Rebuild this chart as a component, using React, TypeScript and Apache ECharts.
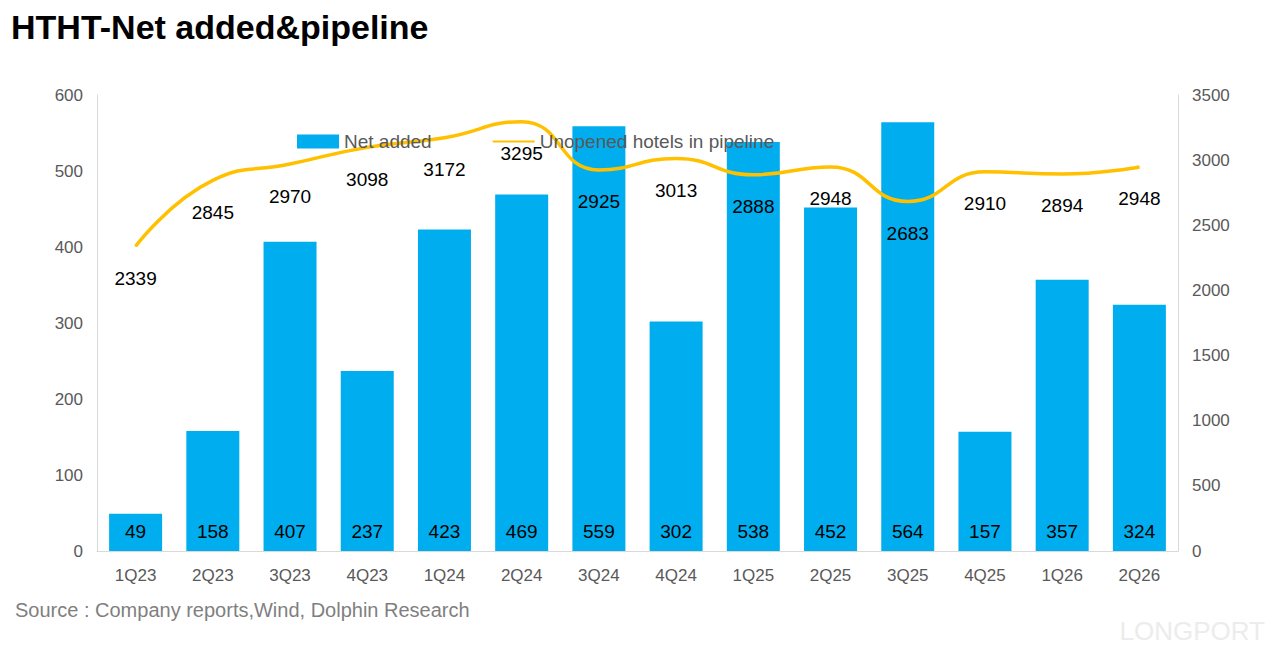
import * as echarts from 'echarts';
import { useEffect, useRef } from 'react';

const quarters = ['1Q23', '2Q23', '3Q23', '4Q23', '1Q24', '2Q24', '3Q24', '4Q24', '1Q25', '2Q25', '3Q25', '4Q25', '1Q26', '2Q26'];
const netAdded = [49, 158, 407, 237, 423, 469, 559, 302, 538, 452, 564, 157, 357, 324];
const pipeline = [2339, 2845, 2970, 3098, 3172, 3295, 2925, 3013, 2888, 2948, 2683, 2910, 2894, 2948];

const App = () => {
    const chartRef = useRef<HTMLDivElement>(null);

    useEffect(() => {
        if (!chartRef.current) return;
        const chart = echarts.init(chartRef.current, undefined, { renderer: 'svg' });
        const font = 'Helvetica, Arial, "Liberation Sans", sans-serif';

        chart.setOption({
            animation: false,
            textStyle: { fontFamily: font },
            title: {
                text: 'HTHT-Net added&pipeline',
                left: 6,
                top: 5,
                textStyle: { fontSize: 34, fontWeight: 'bold', color: '#000', fontFamily: font },
            },
            legend: {
                top: 127,
                left: 292,
                itemGap: 60,
                itemWidth: 42,
                itemHeight: 14,
                textStyle: { fontSize: 19, color: '#595959' },
                data: [
                    { name: 'Net added', icon: 'rect' },
                    { name: 'Unopened hotels in pipeline', itemStyle: { opacity: 0 } },
                ],
            },
            grid: { left: 97, right: 105, top: 95, bottom: 111 },
            xAxis: {
                type: 'category',
                data: quarters,
                axisLine: { lineStyle: { color: '#d9d9d9' } },
                axisTick: { show: false },
                axisLabel: { fontSize: 17, color: '#595959', margin: 16 },
            },
            yAxis: [
                {
                    type: 'value', min: 0, max: 600, interval: 100,
                    splitLine: { show: false },
                    axisLine: { show: true, lineStyle: { color: '#d9d9d9' } },
                    axisLabel: { fontSize: 17, color: '#595959', margin: 14 },
                },
                {
                    type: 'value', min: 0, max: 3500, interval: 500,
                    splitLine: { show: false },
                    axisLine: { show: true, lineStyle: { color: '#d9d9d9' } },
                    axisLabel: { fontSize: 17, color: '#595959', margin: 14, formatter: (v: number) => String(v) },
                },
            ],
            series: [
                {
                    name: 'Net added', type: 'bar', data: netAdded, barWidth: 53,
                    itemStyle: { color: '#00AEEF' },
                    label: { show: true, position: 'insideBottom', distance: 10, fontSize: 19, color: '#000' },
                },
                {
                    name: 'Unopened hotels in pipeline', type: 'line', yAxisIndex: 1, data: pipeline,
                    smooth: true, symbol: 'circle', symbolSize: 1,
                    lineStyle: { color: '#FFC000', width: 3.5 },
                    itemStyle: { color: '#FFC000' },
                    label: { show: true, position: 'bottom', distance: 22, fontSize: 19, color: '#000' },
                },
            ],
            graphic: [
                {
                    type: 'text', left: 15, top: 600,
                    style: { text: 'Source : Company reports,Wind, Dolphin Research', fontSize: 20, fill: '#7f7f7f', fontFamily: font },
                },
                {
                    type: 'text', right: 18, top: 618,
                    style: { text: 'LONGPORT', fontSize: 26, fill: '#ececec', fontFamily: font },
                },
                {
                    type: 'rect', left: 0, top: 0, shape: { width: 1281, height: 660 },
                    style: { fill: 'none', stroke: '#bfbfbf', lineWidth: 1 },
                },
            ],
        });

        const onResize = () => chart.resize();
        window.addEventListener('resize', onResize);
        return () => {
            window.removeEventListener('resize', onResize);
            chart.dispose();
        };
    }, []);

    return <div ref={chartRef} style={{ width: 1283, height: 662, margin: -8 }} />;
};

export default App;
